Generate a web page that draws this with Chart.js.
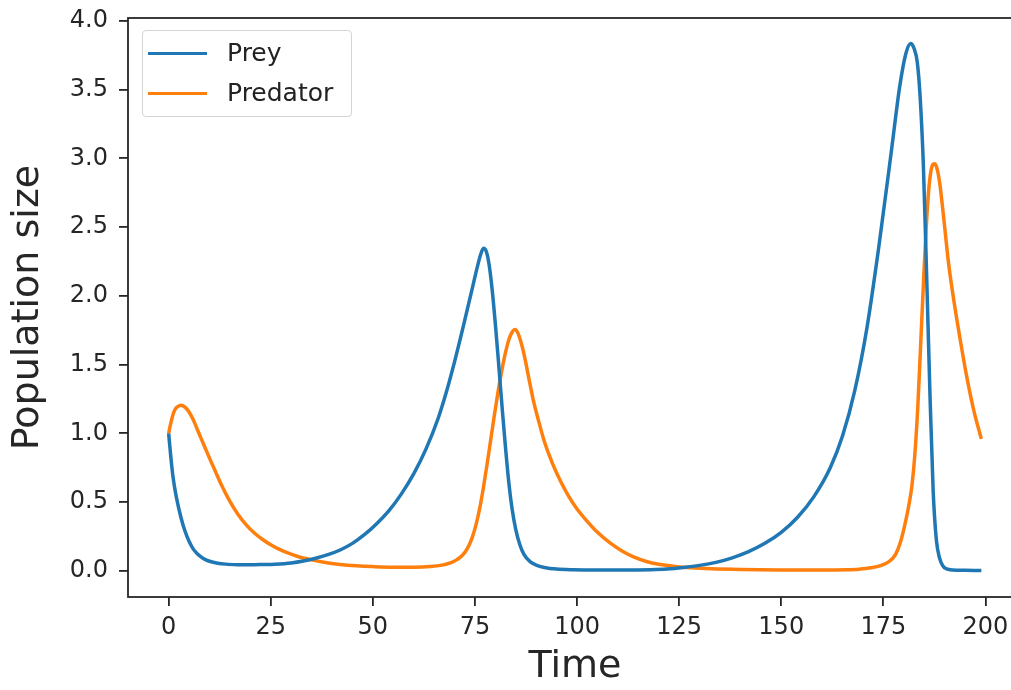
<!DOCTYPE html>
<html>
<head>
<meta charset="utf-8">
<title>Prey and predator populations</title>
<script src="https://cdn.jsdelivr.net/npm/chart.js@4.4.1/dist/chart.umd.min.js"></script>
<style>
  html, body { margin: 0; padding: 0; background: #fff; overflow: hidden; }
  #wrap { position: relative; width: 1030px; height: 690px; }
  #legend {
    position: absolute; left: 142px; top: 30px; width: 208px; height: 85px;
    border: 1px solid #d4d4d4; border-radius: 4px; background: rgba(255,255,255,0.8);
    font-family: 'DejaVu Sans', sans-serif; font-size: 25px; color: #222;
  }
  #legend .swatch { position: absolute; left: 5px; width: 59px; height: 3px; }
  #legend .label { position: absolute; left: 84px; height: 40px; line-height: 40px; white-space: nowrap; }
</style>
</head>
<body>
<div id="wrap">
  <canvas id="lvChart" width="1030" height="690"></canvas>
  <div id="legend"></div>
</div>
<script>
// time points and population sizes of the two species
var preyTime = [0, 0.5, 1, 1.5, 2, 3, 4, 5, 6, 7, 8, 9, 10, 12, 14, 17, 20, 23, 26, 30,
  33, 36, 39, 42, 45, 48, 51, 54, 57, 60, 63, 66, 68, 70, 72, 74, 75.5, 76.4, 77.1, 77.8,
  78.5, 79.3, 80.1, 80.9, 81.7, 82.5, 83.3, 84.1, 85, 86, 87, 88.5, 90, 92, 95, 99, 105, 112, 118, 122,
  126, 130, 134, 138, 142, 146, 150, 154, 158, 162, 165, 168, 171, 174, 177, 179, 180.5, 181.7, 182.5, 183.3,
  184.0, 184.8, 185.6, 186.4, 187.2, 188, 188.8, 189.6, 190.5, 192, 195, 199];
var preyValues = [1.0, 0.84, 0.70, 0.60, 0.52, 0.39, 0.29, 0.215, 0.16, 0.125, 0.10, 0.082, 0.07, 0.056, 0.049, 0.045, 0.044, 0.046, 0.049, 0.058,
  0.072, 0.092, 0.118, 0.152, 0.20, 0.265, 0.345, 0.44, 0.56, 0.705, 0.885, 1.11, 1.30, 1.52, 1.76, 2.01, 2.20, 2.30, 2.345, 2.32,
  2.22, 2.02, 1.76, 1.47, 1.17, 0.89, 0.64, 0.45, 0.30, 0.19, 0.12, 0.067, 0.042, 0.025, 0.013, 0.008, 0.006, 0.006, 0.009, 0.014,
  0.025, 0.040, 0.062, 0.095, 0.14, 0.20, 0.28, 0.39, 0.54, 0.75, 0.98, 1.31, 1.77, 2.38, 3.06, 3.52, 3.76, 3.835, 3.80, 3.70,
  3.45, 2.95, 2.15, 1.30, 0.58, 0.22, 0.09, 0.035, 0.014, 0.006, 0.004, 0.003];

var predTime = [0, 0.5, 1, 1.5, 2, 3, 4, 5, 6, 7, 8, 9, 10, 11.5, 13, 15, 17, 19, 21, 23,
  25, 27, 29, 32, 35, 38, 42, 46, 50, 55, 60, 64, 67, 69, 70.5, 72, 73.2, 74.3, 75.3, 76.2,
  77.1, 78, 78.9, 79.8, 80.7, 81.6, 82.5, 83.4, 84.2, 84.8, 85.5, 86.3, 87.2, 88.2, 89.3, 90.5, 92, 94, 96, 98,
  100, 102.5, 105, 108, 111, 114, 117, 120, 124, 128, 133, 140, 150, 160, 166, 169, 172, 174.5, 176.5, 178,
  179.2, 180.3, 181.2, 182, 182.7, 183.4, 184.1, 184.8, 185.5, 186.2, 186.9, 187.5, 188.1, 188.8, 189.8, 191, 192.5, 194, 195.5, 197.2,
  199];
var predValues = [1.0, 1.07, 1.13, 1.17, 1.19, 1.205, 1.19, 1.155, 1.10, 1.03, 0.96, 0.89, 0.82, 0.72, 0.62, 0.505, 0.41, 0.335, 0.275, 0.228,
  0.19, 0.158, 0.132, 0.101, 0.08, 0.063, 0.047, 0.037, 0.031, 0.027, 0.027, 0.031, 0.042, 0.058, 0.08, 0.115, 0.165, 0.24, 0.34, 0.46,
  0.61, 0.78, 0.96, 1.14, 1.31, 1.46, 1.59, 1.69, 1.74, 1.755, 1.73, 1.66, 1.55, 1.40, 1.24, 1.10, 0.94, 0.78, 0.65, 0.54,
  0.45, 0.36, 0.28, 0.205, 0.145, 0.10, 0.068, 0.048, 0.032, 0.022, 0.015, 0.010, 0.007, 0.006, 0.008, 0.012, 0.022, 0.04, 0.07, 0.12,
  0.21, 0.34, 0.47, 0.62, 0.84, 1.17, 1.62, 2.08, 2.50, 2.80, 2.94, 2.96, 2.93, 2.82, 2.56, 2.23, 1.92, 1.65, 1.40, 1.16,
  0.96];

var xTicks = [0, 25, 50, 75, 100, 125, 150, 175, 200];
var yTicks = [0, 0.5, 1.0, 1.5, 2.0, 2.5, 3.0, 3.5, 4.0];

function toPoints(ts, vs) {
  return ts.map(function (t, i) { return { x: t, y: vs[i] }; });
}

Chart.defaults.font.family = "'DejaVu Sans', sans-serif";
Chart.defaults.color = '#262626';

// box round the plot area, like a full set of spines
var frame = {
  id: 'frame',
  afterDatasetsDraw: function (chart) {
    var a = chart.chartArea, ctx = chart.ctx;
    ctx.save();
    ctx.strokeStyle = '#262626';
    ctx.lineWidth = 1.8;
    ctx.strokeRect(a.left, a.top, a.right - a.left, a.bottom - a.top);
    ctx.restore();
  }
};

var tickGrid = { drawOnChartArea: false, drawTicks: true, tickLength: 9, color: '#262626', lineWidth: 1.8 };

var chart = new Chart(document.getElementById('lvChart'), {
  type: 'line',
  data: {
    datasets: [{
      label: 'Prey',
      data: toPoints(preyTime, preyValues),
      borderColor: '#1f77b4'
    }, {
      label: 'Predator',
      data: toPoints(predTime, predValues),
      borderColor: '#ff7f0e'
    }]
  },
  options: {
    responsive: false,
    animation: false,
    devicePixelRatio: 1,
    layout: { padding: { top: 18, right: 8, left: 0, bottom: 0 } },
    elements: {
      point: { radius: 0 },
      line: { borderWidth: 3.5, cubicInterpolationMode: 'monotone', fill: false }
    },
    plugins: { legend: { display: false }, tooltip: { enabled: false } },
    scales: {
      x: {
        type: 'linear',
        min: -9.95,
        max: 208.95,
        afterBuildTicks: function (s) { s.ticks = xTicks.map(function (v) { return { value: v }; }); },
        afterFit: function (s) { s.height = 93; s.paddingLeft = 0; s.paddingRight = 0; },
        grid: tickGrid,
        border: { display: false },
        ticks: { font: { size: 24 }, padding: 7, maxRotation: 0, callback: function (v) { return String(v); } },
        title: { display: true, text: 'Time', font: { size: 38 }, padding: { top: 0, bottom: 0 } }
      },
      y: {
        type: 'linear',
        min: -0.19,
        max: 4.02,
        afterBuildTicks: function (s) { s.ticks = yTicks.map(function (v) { return { value: v }; }); },
        afterFit: function (s) { s.width = 128; s.paddingTop = 0; s.paddingBottom = 0; },
        grid: tickGrid,
        border: { display: false },
        ticks: { font: { size: 24 }, padding: 11, callback: function (v) { return v.toFixed(1); } },
        title: { display: true, text: 'Population size', font: { size: 38 }, padding: { top: 5, bottom: 0 } }
      }
    }
  },
  plugins: [frame]
});

// legend box built from the dataset labels and colours
var legend = document.getElementById('legend');
chart.data.datasets.forEach(function (ds, i) {
  var mid = 22 + i * 40;
  var sw = document.createElement('div');
  sw.className = 'swatch';
  sw.style.top = (mid - 1.5) + 'px';
  sw.style.background = ds.borderColor;
  var lb = document.createElement('div');
  lb.className = 'label';
  lb.style.top = (mid - 20) + 'px';
  lb.textContent = ds.label;
  legend.appendChild(sw);
  legend.appendChild(lb);
});
</script>
</body>
</html>
